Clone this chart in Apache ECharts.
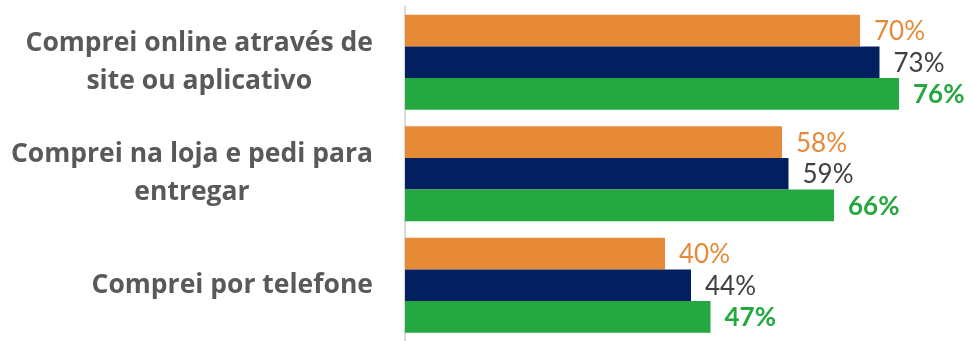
<!DOCTYPE html>
<html>
<head>
<meta charset="utf-8">
<script src="https://cdn.jsdelivr.net/npm/echarts@6/dist/echarts.min.js"></script>
<style>
html,body{margin:0;padding:0;background:#fff;}
#chart{width:973px;height:341px;}
</style>
</head>
<body>
<div id="chart"></div>
<script>
const categories = [
  'Comprei online através de\nsite ou aplicativo',
  'Comprei na loja e pedi para\nentregar',
  'Comprei por telefone'
];
const seriesOrange = [70, 58, 40];
const seriesNavy = [73, 59, 44];
const seriesGreen = [76, 66, 47];

const CAT_FONT = 'Open Sans';
const LBL_FONT = 'Lato';
const CAT_SIZE = 26.5;
const LBL_SIZE = 26;

// right-aligned label blocks whose lines are centered on each other:
// pad each line on the right by half of its shortfall to the widest line
const ctx = document.createElement('canvas').getContext('2d');
ctx.font = 'bold ' + CAT_SIZE + 'px "' + CAT_FONT + '"';
const rich = {};
const catLines = categories.map(function (c, i) {
  const lines = c.split('\n');
  const widths = lines.map(function (l) { return ctx.measureText(l).width; });
  const w = Math.max.apply(null, widths);
  return lines.map(function (l, j) {
    const key = 'c' + i + '_' + j;
    rich[key] = {
      fontFamily: CAT_FONT,
      fontSize: CAT_SIZE,
      fontWeight: 'bold',
      color: '#595959',
      lineHeight: 38,
      padding: [0, (w - widths[j]) / 2, 0, 0]
    };
    return '{' + key + '|' + l + '}';
  }).join('\n');
});

const chart = echarts.init(document.getElementById('chart'));
function mkSeries(data, color, lblColor, bold) {
  return {
    type: 'bar',
    data: data,
    itemStyle: { color: color },
    barGap: '0%',
    barCategoryGap: '15%',
    label: {
      show: true,
      position: 'right',
      distance: 14,
      offset: [0, 1],
      formatter: '{c}%',
      fontFamily: LBL_FONT,
      fontSize: LBL_SIZE,
      fontWeight: bold ? 'bold' : 'normal',
      color: lblColor
    }
  };
}
chart.setOption({
  animation: false,
  backgroundColor: '#ffffff',
  grid: { left: 405, top: 6.5, width: 520, height: 340 },
  xAxis: {
    type: 'value', min: 0, max: 80,
    show: false,
    splitLine: { show: false }
  },
  yAxis: {
    type: 'category',
    inverse: true,
    data: categories,
    axisLine: { show: true, lineStyle: { color: '#D9D9D9', width: 2 } },
    axisTick: { show: false },
    axisLabel: {
      margin: 32,
      align: 'right',
      formatter: function (value, idx) { return catLines[idx]; },
      rich: rich
    }
  },
  series: [
    mkSeries(seriesOrange, '#E68A38', '#E68A38', false),
    mkSeries(seriesNavy, '#02205F', '#404040', false),
    mkSeries(seriesGreen, '#24A83F', '#24A83F', true)
  ]
});
</script>
</body>
</html>
